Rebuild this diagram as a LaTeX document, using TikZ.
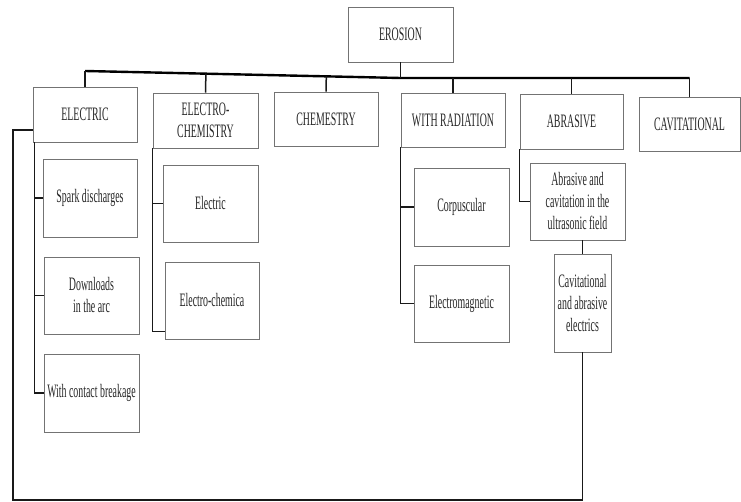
\documentclass[tikz,border=0pt]{standalone}
\usepackage{fontspec}
\setmainfont{Liberation Serif}[FakeStretch=0.52]
\usepackage{tikz}
\usetikzlibrary{positioning, calc}

\begin{document}
\begin{tikzpicture}[
    x=1pt, y=-1pt,
    font=\fontsize{19}{22}\selectfont,
    box/.style={draw=black!55, line width=0.8pt, align=center, inner sep=2pt,
                text=black!85},
    conn/.style={line width=1.5pt, black!90},
    bus/.style={line width=2.4pt, black},
]
  \useasboundingbox (0,0) rectangle (741,502);
  % Root
  \node[box, minimum width=105pt, minimum height=55pt] (erosion) at (400.5,34.5) {EROSION};
  % First level
  \node[box, minimum width=104pt, minimum height=55pt] (electric) at (85,114.5) {ELECTRIC};
  \node[box, minimum width=105pt, minimum height=55pt] (echem) at (205.5,120.5) {ELECTRO-\\CHEMISTRY};
  \node[box, minimum width=104pt, minimum height=54pt] (chem) at (326,119) {CHEMESTRY};
  \node[box, minimum width=104pt, minimum height=54pt] (rad) at (453,120) {WITH RADIATION};
  \node[box, minimum width=103pt, minimum height=55pt] (abras) at (571.5,121.5) {ABRASIVE};
  \node[box, minimum width=101pt, minimum height=54pt] (cavit) at (689.5,124) {CAVITATIONAL};
  % Electric branch
  \node[box, minimum width=94pt, minimum height=78pt] (spark) at (90,198) {Spark discharges};
  \node[box, minimum width=95pt, minimum height=77pt] (arc) at (91.5,295.5) {Downloads\\in the arc};
  \node[box, minimum width=95pt, minimum height=78pt] (breaks) at (91.5,393) {With contact breakage};
  % Electro-chemistry branch
  \node[box, minimum width=95pt, minimum height=77pt] (elec) at (210.5,203.5) {Electric};
  \node[box, minimum width=94pt, minimum height=77pt] (elchem) at (212,300.5) {Electro-chemica};
  % Radiation branch
  \node[box, minimum width=95pt, minimum height=78pt] (corp) at (461.5,207) {Corpuscular};
  \node[box, minimum width=95pt, minimum height=77pt] (emag) at (461.5,303.5) {Electromagnetic};
  % Abrasive branch
  \node[box, minimum width=95pt, minimum height=77pt] (ultra) at (577.5,201.5) {Abrasive and\\cavitation in the\\ultrasonic field};
  \node[box, minimum width=57pt, minimum height=98pt, inner sep=1pt] (cavabr) at (582.5,303) {Cavitational\\and abrasive\\electrics};
  % Bus
  \coordinate (busL) at (85,71);
  \coordinate (hub) at (400.5,78);
  \coordinate (busR) at (689.5,78);
  \coordinate (loop) at (13,500);
  \draw[bus] (busL) -- (hub) -- (busR);
  \draw[conn] (erosion.south) -- (hub);
  \draw[conn] (electric.north) -- (busL);
  \draw[conn] (echem.north) -- ($(busL)!(echem.north)!(hub)$);
  \draw[conn] (chem.north) -- ($(busL)!(chem.north)!(hub)$);
  \draw[conn] (rad.north) -- (rad.north |- hub);
  \draw[conn] (abras.north) -- (abras.north |- hub);
  \draw[conn] (cavit.north) -- (busR);
  % Branches
  \draw[conn] ([xshift=2pt]electric.south west) |- (spark.west);
  \draw[conn] ([xshift=2pt]electric.south west) |- (arc.west);
  \draw[conn] ([xshift=2pt]electric.south west) |- (breaks.west);
  \draw[conn] (echem.south west) |- (elec.west);
  \draw[conn] (echem.south west) |- ([yshift=8pt]elchem.south west);
  \draw[conn] (rad.south west) |- (corp.west);
  \draw[conn] (rad.south west) |- (emag.west);
  \draw[conn] (abras.south west) |- (ultra.west);
  \draw[conn] (cavabr.north |- ultra.south) -- (cavabr.north);
  % Loop back to electric
  \draw[conn] (cavabr.south) |- (loop) |- ([yshift=-15.5pt]electric.west);
\end{tikzpicture}
\end{document}
